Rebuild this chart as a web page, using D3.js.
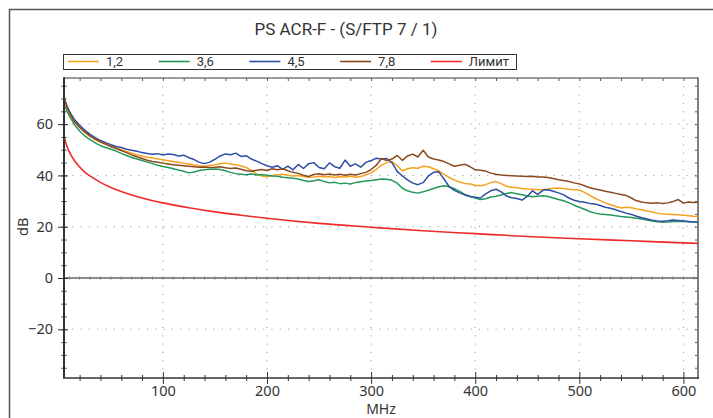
<!DOCTYPE html>
<html>
<head>
<meta charset="utf-8">
<script src="https://cdn.jsdelivr.net/npm/d3@7"></script>
<style>
  html, body { margin: 0; padding: 0; background: #fff; }
  svg { display: block; }
  text { fill: #333; }
</style>
</head>
<body>
<svg id="chart" width="713" height="418"></svg>
<script>
// Frequency grid (MHz) shared by the measured pairs
const freqMHz = [5,6,7,8,10,12,15,20,25,30,35,40,45,50,55,60,65,70,75,80,85,90,95,100,105,110,115,120,125,130,135,140,145,150,155,160,165,170,175,180,185,190,195,200,205,210,215,220,225,230,235,240,245,250,255,260,265,270,275,280,285,290,295,300,305,310,315,320,325,330,335,340,345,350,355,360,365,370,375,380,385,390,395,400,405,410,415,420,425,430,435,440,445,450,455,460,465,470,475,480,485,490,495,500,505,510,515,520,525,530,535,540,545,550,555,560,565,570,575,580,585,590,595,600,605,610,614];

// ACR-F per pair combination (dB)
const pair12 = [70.2,69.2,68.0,66.4,64.6,63.1,61.0,58.8,56.8,55.2,54.0,52.9,52.1,51.4,50.7,50.0,49.3,48.7,48.1,47.6,47.1,46.8,46.4,46.1,45.7,45.4,45.1,44.8,44.5,44.1,43.8,43.6,43.9,44.2,44.6,44.8,44.5,44.2,43.8,43.1,42.0,40.6,39.8,39.5,40.0,40.3,40.5,40.1,39.8,40.0,39.6,39.3,39.4,39.7,39.5,39.6,39.2,39.5,39.4,39.7,39.3,39.6,40.2,41.0,42.4,44.0,45.0,45.4,43.8,41.8,42.6,43.0,42.8,43.6,43.4,42.6,41.8,40.4,39.2,38.2,37.4,36.9,36.7,36.2,36.0,36.4,37.2,37.6,36.8,35.8,35.4,35.2,34.9,34.7,34.6,34.4,34.5,34.7,35.0,35.1,34.9,34.6,34.4,34.3,33.4,32.2,31.1,30.2,29.3,28.6,27.9,27.3,27.6,27.4,26.9,26.6,26.1,25.7,25.3,25.0,24.9,24.8,24.7,24.5,24.3,24.1,24.0];

const pair36 = [67.8,66.9,66.0,65.0,63.3,62.0,59.8,57.3,55.4,54.0,52.7,51.6,50.9,50.2,49.5,48.6,47.8,47.0,46.4,45.8,45.2,44.6,44.0,43.5,43.1,42.6,42.1,41.6,41.0,41.3,41.9,42.2,42.4,42.5,42.3,41.8,41.2,40.7,40.5,40.3,40.6,40.2,40.4,40.1,39.8,39.7,39.3,39.1,38.9,38.6,38.0,37.6,37.9,38.3,37.6,37.1,37.3,36.8,37.0,36.7,37.2,37.5,37.8,38.0,38.3,38.6,38.5,38.1,37.0,35.0,34.0,33.4,33.1,33.6,34.2,34.9,35.6,36.0,35.6,34.8,33.8,32.6,31.9,31.2,30.6,30.9,31.6,31.9,32.4,33.0,33.3,32.9,32.5,32.0,31.7,31.9,32.1,31.8,31.2,30.6,30.1,29.3,28.4,27.6,26.8,25.9,25.3,25.0,24.8,24.6,24.3,24.0,23.8,23.6,23.3,23.0,22.6,22.2,21.9,21.7,21.8,22.0,22.1,22.0,21.9,21.8,21.7];

const pair45 = [70.0,69.0,68.0,67.0,65.2,63.8,61.8,59.6,57.6,56.0,54.7,53.6,52.8,52.0,51.3,50.9,50.2,49.8,49.4,48.9,48.6,48.3,48.5,48.0,48.4,48.2,47.6,47.9,46.9,46.2,45.1,44.6,45.2,46.3,47.6,48.4,48.1,48.7,47.4,47.7,46.4,45.6,44.6,43.8,43.2,43.8,42.4,43.6,42.2,44.3,42.7,44.6,45.0,43.1,42.6,44.9,43.4,42.8,46.0,43.6,44.5,43.2,45.1,45.8,46.7,46.4,46.6,45.0,41.6,39.8,38.3,37.0,36.4,37.2,39.8,41.2,41.4,38.6,35.6,34.2,33.2,32.4,31.8,31.5,31.2,32.8,34.0,34.6,33.6,32.0,31.3,31.0,30.4,31.8,34.0,32.6,34.2,34.4,33.8,33.2,32.4,31.2,30.3,29.8,29.5,29.1,28.9,28.3,27.6,27.2,26.6,25.9,25.3,24.8,24.1,23.5,23.0,22.5,22.2,22.1,22.3,22.6,22.4,22.2,22.0,21.8,21.7];

const pair78 = [69.8,68.8,67.8,66.6,64.8,63.2,61.0,58.7,57.0,55.4,54.2,53.1,52.2,51.3,50.5,49.7,48.9,48.0,47.3,46.6,45.9,45.4,45.1,44.8,44.5,44.2,44.0,43.8,43.6,43.4,43.2,43.3,43.1,43.2,43.4,43.0,42.7,42.9,42.4,41.8,41.6,42.0,42.3,41.9,42.6,42.2,42.6,41.8,41.2,40.8,40.1,39.6,40.4,40.7,40.3,40.6,40.2,40.5,40.1,40.5,40.2,40.7,41.2,42.3,44.0,46.6,45.8,46.4,47.8,45.9,47.6,48.3,47.2,49.8,47.2,46.4,46.0,45.4,44.5,43.6,44.0,44.4,43.4,42.2,42.0,41.7,40.9,40.5,40.2,40.0,39.9,39.8,39.7,39.6,39.7,39.4,39.4,39.2,38.8,38.3,38.0,37.6,37.1,36.7,36.0,35.2,34.7,34.3,33.8,33.4,33.0,32.6,32.2,31.2,30.1,29.6,29.3,29.2,29.3,29.1,29.3,29.8,30.6,29.2,29.6,29.4,29.5];

// Limit line (dB)
const limitMHz = [5,6,7,8,10,12,15,20,25,30,40,50,60,70,80,100,125,150,175,200,250,300,350,400,450,500,550,600,614];
const limitDb  = [55.3,53.7,52.4,51.2,49.3,47.7,45.8,43.3,41.3,39.8,37.3,35.3,33.7,32.4,31.2,29.3,27.4,25.8,24.5,23.3,21.3,19.8,18.4,17.3,16.2,15.3,14.5,13.7,13.5];

const seriesNames  = ["1,2", "3,6", "4,5", "7,8", "Лимит"];
const seriesColors = ["#f7a21e", "#23985a", "#2e4ea6", "#8a4a1e", "#ee2b2b"];

const xTicksMajor = [100, 200, 300, 400, 500, 600];
const yTicksMajor = [-20, 0, 20, 40, 60];

const titleText = "PS ACR-F - (S/FTP 7 / 1)";
const xLabel = "MHz";
const yLabel = "dB";

// ---- layout ----
const svg = d3.select("#chart");
const plot = { left: 64, right: 698, top: 78, bottom: 378 };

const x = d3.scaleLinear().domain([5, 614]).range([plot.left, plot.right]);
const y = d3.scaleLinear().domain([-39, 78]).range([plot.bottom, plot.top]);

const labelFont = "'Noto Sans', 'Open Sans', sans-serif";

// outer frame
svg.append("rect")
  .attr("x", 9.5).attr("y", 9.5).attr("width", 720).attr("height", 420)
  .attr("fill", "#fff").attr("stroke", "#555").attr("stroke-width", 1.5);

// title
svg.append("text")
  .attr("x", 346).attr("y", 35)
  .attr("text-anchor", "middle")
  .style("font-family", "Roboto, 'Noto Sans', sans-serif")
  .style("font-size", "17px")
  .text(titleText);

// legend
const legend = svg.append("g");
legend.append("rect")
  .attr("x", 63.5).attr("y", 54.5).attr("width", 453).attr("height", 15)
  .attr("fill", "#fff").attr("stroke", "#333").attr("stroke-width", 1);
seriesNames.forEach((name, i) => {
  const lx = 68 + i * 90.7;
  legend.append("line")
    .attr("x1", lx).attr("x2", lx + 31).attr("y1", 61.5).attr("y2", 61.5)
    .attr("stroke", seriesColors[i]).attr("stroke-width", 1.6);
  legend.append("text")
    .attr("x", lx + 38).attr("y", 66)
    .style("font-family", "Roboto, 'Noto Sans', sans-serif")
    .style("font-size", "13px")
    .text(name);
});

// grid (dotted)
const grid = svg.append("g");
xTicksMajor.forEach(v => {
  grid.append("line")
    .attr("x1", x(v)).attr("x2", x(v)).attr("y1", plot.top).attr("y2", plot.bottom)
    .attr("stroke", "#8a8a8a").attr("stroke-width", 1).attr("stroke-dasharray", "1,7.3");
});
yTicksMajor.filter(v => v !== 0).forEach(v => {
  grid.append("line")
    .attr("x1", plot.left).attr("x2", plot.right).attr("y1", y(v)).attr("y2", y(v))
    .attr("stroke", "#8a8a8a").attr("stroke-width", 1).attr("stroke-dasharray", "1,7.3");
});

// zero line with small ticks
grid.append("line")
  .attr("x1", plot.left).attr("x2", plot.right).attr("y1", y(0)).attr("y2", y(0))
  .attr("stroke", "#666").attr("stroke-width", 1.3);
d3.range(10, 614, 10).forEach(v => {
  grid.append("line")
    .attr("x1", x(v)).attr("x2", x(v)).attr("y1", y(0) - 1.5).attr("y2", y(0) + 1.5)
    .attr("stroke", "#777").attr("stroke-width", 1);
});

// top and right frame of the plot with inward ticks
const topAxis = d3.axisBottom(x).tickValues(d3.range(20, 614, 20)).tickSize(3).tickFormat("");
const gTop = svg.append("g").attr("transform", `translate(0,${plot.top})`).call(topAxis);
gTop.select(".domain").remove();
gTop.selectAll("line").attr("stroke", "#555");
svg.append("line")
  .attr("x1", plot.left).attr("x2", plot.right).attr("y1", plot.top).attr("y2", plot.top)
  .attr("stroke", "#7a7a7a").attr("stroke-width", 1.5);

const rightAxis = d3.axisLeft(y).tickValues(d3.range(-35, 78, 5)).tickSize(3).tickFormat("");
const gRight = svg.append("g").attr("transform", `translate(${plot.right},0)`).call(rightAxis);
gRight.select(".domain").remove();
gRight.selectAll("line").attr("stroke", "#555");
svg.append("line")
  .attr("x1", plot.right).attr("x2", plot.right).attr("y1", plot.top - 0.75).attr("y2", plot.bottom + 1)
  .attr("stroke", "#808080").attr("stroke-width", 2);

// series
const line = d3.line().x(d => x(d[0])).y(d => y(d[1]));
const pairSeries = [pair12, pair36, pair45, pair78];
const gLines = svg.append("g");
pairSeries.forEach((vals, i) => {
  gLines.append("path")
    .datum(freqMHz.map((f, k) => [f, vals[k]]))
    .attr("fill", "none")
    .attr("stroke", seriesColors[i])
    .attr("stroke-width", 1.5)
    .attr("stroke-linejoin", "round")
    .attr("d", line);
});
gLines.append("path")
  .datum(limitMHz.map((f, k) => [f, limitDb[k]]))
  .attr("fill", "none")
  .attr("stroke", seriesColors[4])
  .attr("stroke-width", 1.6)
  .attr("d", line.curve(d3.curveMonotoneX));

// left axis
const gLeft = svg.append("g").attr("transform", `translate(${plot.left},0)`);
gLeft.call(d3.axisLeft(y).tickValues(d3.range(-35, 78, 5)).tickSizeInner(2.5).tickSizeOuter(0).tickFormat(""));
gLeft.selectAll(".tick line").attr("x2", -2.5).attr("x1", 2.5).attr("stroke", "#333");
gLeft.select(".domain").remove();
const gLeftMaj = svg.append("g").attr("transform", `translate(${plot.left},0)`)
  .call(d3.axisLeft(y).tickValues(yTicksMajor).tickSize(6).tickPadding(5));
gLeftMaj.select(".domain").remove();
gLeftMaj.selectAll(".tick line").attr("x1", 4).attr("stroke", "#333");
gLeftMaj.selectAll("text")
  .style("font-family", labelFont)
  .style("font-size", "14.5px").attr("fill", "#333");
svg.append("line")
  .attr("x1", plot.left).attr("x2", plot.left).attr("y1", plot.top - 0.75).attr("y2", plot.bottom)
  .attr("stroke", "#333").attr("stroke-width", 2);

// bottom axis
const gBot = svg.append("g").attr("transform", `translate(0,${plot.bottom})`);
gBot.call(d3.axisBottom(x).tickValues(d3.range(20, 614, 20).filter(v => v % 100 !== 0)).tickSize(3).tickFormat(""));
gBot.selectAll(".tick line").attr("y1", -3).attr("stroke", "#333");
gBot.select(".domain").remove();
const gBotMaj = svg.append("g").attr("transform", `translate(0,${plot.bottom})`)
  .call(d3.axisBottom(x).tickValues(xTicksMajor).tickSize(6).tickPadding(2));
gBotMaj.select(".domain").remove();
gBotMaj.selectAll(".tick line").attr("y1", -6).attr("stroke", "#333");
gBotMaj.selectAll("text")
  .style("font-family", labelFont)
  .style("font-size", "14.5px").attr("fill", "#333");
svg.append("line")
  .attr("x1", plot.left - 1).attr("x2", plot.right + 1).attr("y1", plot.bottom).attr("y2", plot.bottom)
  .attr("stroke", "#333").attr("stroke-width", 1.6);

// axis titles
svg.append("text")
  .attr("x", (plot.left + plot.right) / 2).attr("y", 414)
  .attr("text-anchor", "middle")
  .style("font-family", labelFont)
  .style("font-size", "14px")
  .text(xLabel);
svg.append("text")
  .attr("transform", `translate(28,${y(20)}) rotate(-90)`)
  .attr("text-anchor", "middle")
  .style("font-family", labelFont)
  .style("font-size", "14.5px")
  .text(yLabel);
</script>
</body>
</html>
